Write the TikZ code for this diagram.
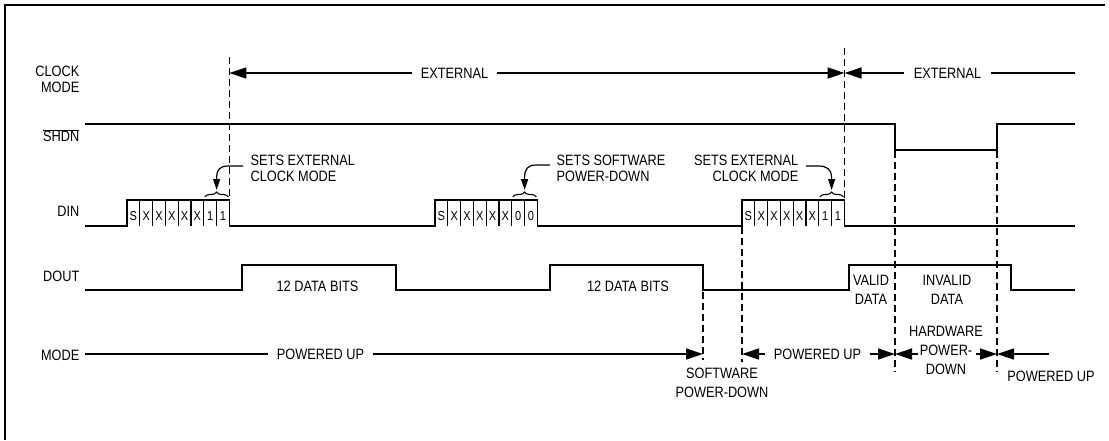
\documentclass[tikz,border=0pt]{standalone}
\usepackage{fontspec}
\setmainfont{Liberation Sans}[FakeStretch=0.85]
\usetikzlibrary{arrows.meta,decorations.pathreplacing}
\begin{document}
\begin{tikzpicture}[x=1pt,y=-1pt,line width=1.4pt,
  lbl/.style={font=\fontsize{15}{16}\selectfont,inner sep=0pt,align=center},
  lblwide/.style={font=\fontsize{15}{18.5}\selectfont,inner sep=0pt,align=center},
  cell/.style={font=\fontsize{13}{13}\selectfont,inner sep=0pt},
  guide/.style={dash pattern=on 7pt off 4pt,line width=1.3pt},
  headarrow/.style={-{Triangle[length=17pt,width=11pt]}},
  smallhead/.style={line width=1.2pt,-{Triangle[length=11pt,width=7pt]}},
  bracestyle/.style={line width=1.1pt,decorate,decoration={brace,amplitude=5pt}}]
\useasboundingbox (0,0) rectangle (1109,440);
% frame
\draw[line width=1.6pt] (5,440) -- (5,5) -- (1105,5);

% row labels
\node[lbl,align=right,anchor=east] (clk) at (80,79.7) {CLOCK\\MODE};
\node[lbl,anchor=base east] (shdn) at (80,141.7) {$\overline{\mbox{SHDN}}$};
\node[lbl,anchor=base east] (din) at (80,216.7) {DIN};
\node[lbl,anchor=base east] (dout) at (80,281.7) {DOUT};
\node[lbl,anchor=base east] (mode) at (80,360.5) {MODE};

% dashed guide lines
\draw[guide] (229.4,57) -- (229.4,200);
\draw[guide] (844.5,48) -- (844.5,200);
\draw[guide] (703,292) -- (703,360);
\draw[guide] (742,227) -- (742,362);
\draw[guide] (895,151) -- (895,372);
\draw[guide] (997,151) -- (997,372);

% clock mode row
\coordinate (cA) at (229.4,73);
\coordinate (cB) at (844.5,73);
\coordinate (cEnd) at (1075,73);
\node[lbl,inner xsep=8pt] (ext1) at (454.5,73) {EXTERNAL};
\draw[headarrow] (ext1.west) -- (cA);
\draw[headarrow] (ext1.east) -- (cB);
\node[lbl,inner xsep=9pt] (ext2) at (947.5,73) {EXTERNAL};
\draw[headarrow] (ext2.west) -- (cB);
\draw (ext2.east) -- (cEnd);

% SHDN
\draw (85,124) -- (895,124) -- (895,150) -- (997,150) -- (997,124) -- (1075,124);

% DIN
\draw (85,226) -- (127,226) -- (127,200) -- (229.4,200) -- (229.4,226)
  -- (435,226) -- (435,200) -- (537.4,200) -- (537.4,226)
  -- (742,226) -- (742,200) -- (844.4,200) -- (844.4,226) -- (1075,226);
\foreach \px/\bit [count=\p] in {127/1,435/0,742/1} {
  \foreach \ch [count=\k from 0] in {S,X,X,X,X,X,\bit,\bit} {
    \node[cell] (c\p\k) at (\px+\k*12.8+6.4,216) {\ch};
  }
  \foreach \k in {1,...,7} \draw[line width=1.1pt] (\px+\k*12.8,200) -- (\px+\k*12.8,226);
  \draw[bracestyle] (\px+6*12.8+1,197) -- (\px+8*12.8-1,197);
}

% DIN annotations
\node[lbl,align=left,anchor=west] (lab1) at (250,168) {SETS EXTERNAL\\CLOCK MODE};
\coordinate (a1s) at (243,166);
\coordinate (a1e) at (216.6,190);
\draw[smallhead] (a1s) -- (228,166) .. controls (220,166) and (216.6,170) .. (216.6,177) -- (a1e);
\node[lbl,align=left,anchor=west] (lab2) at (556,168) {SETS SOFTWARE\\POWER-DOWN};
\coordinate (a2s) at (550,165);
\coordinate (a2e) at (524.6,190);
\draw[smallhead] (a2s) -- (536,165) .. controls (528,165) and (524.6,169) .. (524.6,177) -- (a2e);
\node[lbl,align=right,anchor=east] (lab3) at (799,168) {SETS EXTERNAL\\CLOCK MODE};
\coordinate (a3s) at (806,166);
\coordinate (a3e) at (831.6,190);
\draw[smallhead] (a3s) -- (819,166) .. controls (827,166) and (831.6,170) .. (831.6,177) -- (a3e);

% DOUT
\draw (85,290) -- (242,290) -- (242,265) -- (396,265) -- (396,290)
  -- (550,290) -- (550,265) -- (703,265) -- (703,290)
  -- (849,290) -- (849,265) -- (1011,265) -- (1011,290) -- (1075,290);
\node[lbl] (db1) at (317.5,286.5) {12 DATA BITS};
\node[lbl] (db2) at (628,286.5) {12 DATA BITS};
\node[lblwide] (vd) at (871,290) {VALID\\DATA};
\node[lblwide] (ivd) at (947,290) {INVALID\\DATA};

% MODE row
\coordinate (mStart) at (85,354);
\coordinate (mSW) at (703,354);
\coordinate (mPU) at (742,354);
\coordinate (mHW1) at (895,354);
\coordinate (mHW2) at (997,354);
\coordinate (mEnd) at (1049,354);
\coordinate (hwL) at (918,354);
\coordinate (hwR) at (976,354);
\node[lbl,inner xsep=8pt] (pu1) at (320.5,354) {POWERED UP};
\draw (mStart) -- (pu1.west);
\draw[headarrow] (pu1.east) -- (mSW);
\node[lblwide] (swpd) at (722,383) {SOFTWARE\\POWER-DOWN};
\node[lbl,inner xsep=8pt] (pu2) at (817.5,354) {POWERED UP};
\draw[headarrow] (pu2.west) -- (mPU);
\draw[headarrow] (pu2.east) -- (mHW1);
\node[lbl,font=\fontsize{15}{19}\selectfont] (hwpd) at (946,350) {HARDWARE\\POWER-\\DOWN};
\draw[headarrow] (hwL) -- (mHW1);
\draw[headarrow] (hwR) -- (mHW2);
\draw[headarrow] (mEnd) -- (mHW2);
\node[lbl] (pu3) at (1051,376) {POWERED UP};
\end{tikzpicture}
\end{document}
